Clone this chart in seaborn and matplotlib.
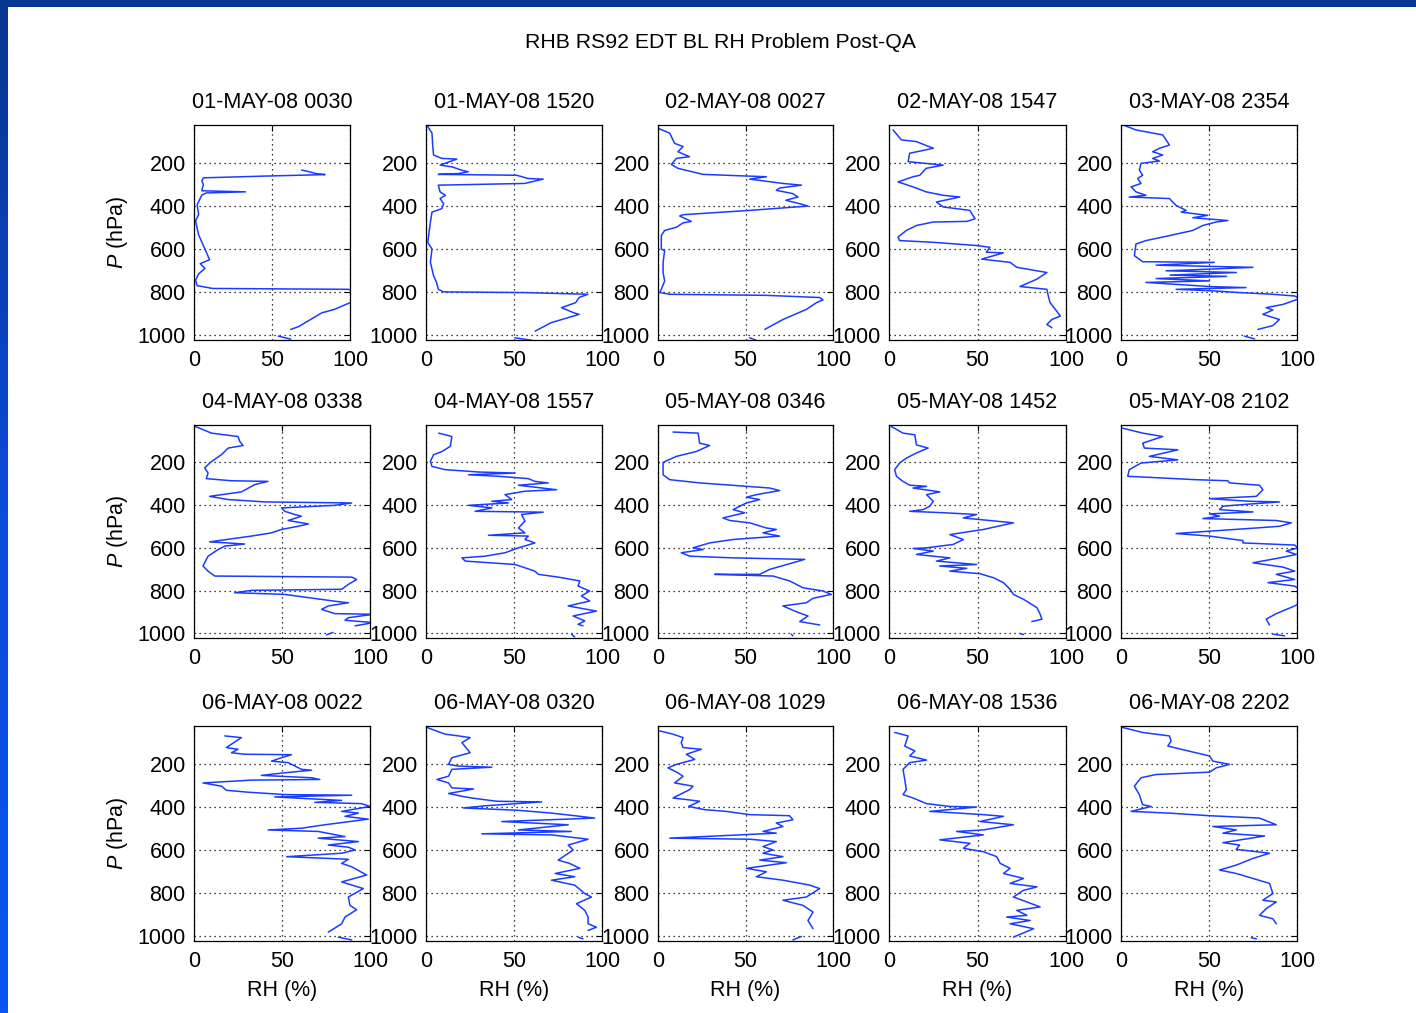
import numpy as np
import pandas as pd
import matplotlib
matplotlib.use("Agg")
import matplotlib.pyplot as plt
import seaborn as sns
from matplotlib.patches import Rectangle
from matplotlib.colors import LinearSegmentedColormap

titles = ["01-MAY-08 0030", "01-MAY-08 1520", "02-MAY-08 0027", "02-MAY-08 1547", "03-MAY-08 2354",
          "04-MAY-08 0338", "04-MAY-08 1557", "05-MAY-08 0346", "05-MAY-08 1452", "05-MAY-08 2102",
          "06-MAY-08 0022", "06-MAY-08 0320", "06-MAY-08 1029", "06-MAY-08 1536", "06-MAY-08 2202"]
x_ticks = [0, 50, 100]
y_ticks = [200, 400, 600, 800, 1000]

p_01 = [234, 242, 250, 255, 262, 270, 285, 300, 330, 335, 340, 350, 395, 440, 470, 535, 600, 650, 668, 690, 715, 745, 770, 783, 787, 810, 849, 880, 896, 930, 960, 973, None, 1004, 1018]
rh_01 = [69, 74, 78, 84, 45, 6, 5, 6, 5, 33, 8, 5, 2, 3, 1, 3, 7, 10, 4, 7, 3, 1, 2, 12, 99, 110, 100, 90, 82, 74, 67, 62, None, 54, 62]

p_02 = [32, 63, 118, 164, 180, 183, 211, 219, 234, 242, 250, 254, 258, 273, 276, 296, 304, 335, 351, 366, 390, 413, 429, 475, 538, 569, 600, 662, 693, 724, 755, 787, 799, 802, 810, 825, 849, 872, 896, 903, 942, 981, None, 1012, 1023]
rh_02 = [1, 3.4, 3.8, 4.3, 9, 17.5, 8, 14.7, 20, 24, 18.5, 7, 51.5, 58, 66.6, 56, 7, 8, 11, 8, 10, 9, 3.4, 2.5, 1.5, 1, 3.4, 2.5, 3.4, 4.3, 6, 7, 10, 55, 92, 87, 85, 77, 84, 87, 71, 62, None, 50.5, 60]

p_03 = [40, 63, 110, 125, 149, 172, 180, 208, 226, 254, 261, 265, 276, 296, 304, 317, 328, 343, 359, 374, 390, 401, 421, 441, 447, 472, 479, 499, 514, 538, 600, 608, 662, 709, 748, 787, 802, 810, 815, 825, 836, 849, 880, 927, 973, None, 1012, 1023]
rh_03 = [0, 6.7, 9.5, 14.3, 11.4, 18, 10.5, 7.6, 11.4, 25.7, 48.6, 62, 52.4, 71.4, 82, 69.5, 67.6, 77, 80, 73, 81, 85.7, 52.4, 14.3, 12.4, 19, 14.3, 10.5, 3.8, 1.9, 1.9, 3.8, 2.9, 2.9, 3.8, 1.9, 1, 6.7, 62, 92.4, 94.3, 90.5, 84.8, 71.4, 61, None, 52.4, 56]

p_04 = [48, 94, 102, 133, 156, 195, 211, 226, 258, 265, 289, 312, 335, 351, 359, 382, 405, 421, 460, 472, 475, 491, 514, 545, 561, 569, 584, 592, 615, 618, 647, 662, 685, 701, 709, 740, 774, 787, 818, 849, 880, 911, 927, 950, 965]
rh_04 = [2.3, 7, 15.5, 25, 11.7, 10.8, 30.6, 21, 17.4, 13.6, 5.1, 13.6, 21, 30.6, 40, 26.8, 30.6, 45.7, 48.6, 43.9, 25, 15.5, 9.8, 5.1, 6, 25, 49.5, 57, 55, 64.6, 52.4, 68.4, 72.2, 83.5, 89.2, 83.5, 74, 89.2, 90, 91, 94, 96.8, 92, 89.2, 92]

p_05 = [24, 48, 71, 94, 118, 133, 149, 164, 180, 192, 203, 234, 258, 273, 296, 312, 335, 351, 359, 366, 398, 421, 429, 444, 455, 468, 475, 491, 514, 538, 561, 577, 631, 659, 662, 675, 685, 696, 701, 709, 721, 727, 737, 748, 755, 774, 779, 787, 794, 802, 810, 818, 830, 857, 872, 883, 903, 927, 955, 973, None, 1004, 1017]
rh_05 = [1, 8.5, 23.7, 25.6, 27.5, 21.8, 18, 23.7, 18, 21.8, 11.4, 10.4, 12.3, 9.5, 11.4, 5.7, 8.5, 14.2, 4.7, 27.5, 31.3, 37, 34.2, 49.3, 40.8, 60.7, 54, 46.5, 40.8, 27.5, 14.2, 8.5, 7.6, 12.3, 53, 20, 75, 42.7, 25.6, 65.5, 27.9, 60, 20, 50.3, 14.2, 50.3, 71, 31.3, 52, 67.4, 86.3, 98.7, 101.5, 92, 82.5, 86.3, 80.6, 90, 86.3, 77.8, None, 70.2, 75.9]

p_06 = [32, 63, 79, 102, 121, 133, 164, 180, 203, 226, 250, 276, 286, 289, 304, 338, 359, 374, 385, 390, 401, 413, 429, 444, 452, 472, 488, 499, 514, 530, 545, 572, 582, 592, 608, 639, 685, 709, 732, 737, 748, 771, 794, 799, 810, 818, 852, 857, 872, 888, 908, 911, 927, 939, 950, 965, None, 996, 1007]
rh_06 = [0.8, 9.9, 25, 26, 27.9, 19.4, 15.6, 12.7, 8.9, 6.1, 8, 7, 21.3, 42, 34.5, 27, 8.9, 19.4, 40.2, 89.6, 80, 49.7, 51.6, 57.3, 61, 53.5, 65, 59.2, 49.7, 44, 32.6, 8.9, 28.8, 17.5, 13.7, 8, 5.1, 8, 11.8, 89.6, 92.4, 87.7, 83.9, 32.6, 23.1, 51.6, 82, 87.7, 76.3, 72.5, 80, 102, 87.7, 85.8, 102, 91.5, None, 79, 75.3]

p_07 = [63, 79, 125, 149, 164, 195, 219, 234, 245, 250, 258, 265, 276, 289, 296, 307, 328, 335, 351, 374, 382, 390, 401, 413, 429, 433, 444, 475, 507, 530, 541, 545, 561, 577, 600, 623, 639, 647, 662, 678, 709, 724, 737, 755, 779, 802, 825, 849, 872, 896, 919, 942, 958, 965, None, 1004, 1017]
rh_07 = [7.2, 14.7, 13.8, 9.1, 4.3, 2.5, 3.4, 10.9, 29.8, 50.6, 24.2, 41.1, 58.1, 61.9, 69.4, 52.5, 74.2, 56.2, 44.9, 48.7, 37.4, 46.8, 24.2, 37.4, 27.9, 66.6, 54.3, 56.2, 52.5, 56.2, 35.5, 58.1, 56.2, 61.9, 52.5, 44.9, 33.6, 20.4, 22.3, 50.6, 61.9, 63.8, 75.1, 87.4, 86.4, 93, 88.3, 93, 80.8, 96.8, 83.6, 90.2, 86.4, 89.2, None, 82.6, 84.5]

p_08 = [58, 63, 110, 121, 149, 172, 200, 258, 281, 296, 312, 320, 332, 351, 363, 374, 390, 421, 436, 460, 472, 483, 507, 514, 530, 545, 561, 577, 600, 608, 623, 639, 647, 654, 701, 724, 724, 732, 755, 787, 802, 818, 836, 857, 872, 899, 919, 945, 961, None, 1004, 1012]
rh_08 = [8.6, 22.9, 23.8, 29.5, 21.9, 10.5, 2.9, 2.9, 6.7, 23.8, 50.5, 63.8, 69.5, 56.2, 50.5, 58.1, 50.5, 42.9, 49.5, 37.1, 41, 52.4, 61.9, 67.6, 60, 69.5, 42.9, 29.5, 20, 25.7, 13.3, 18.1, 42.9, 83.8, 63.8, 58.1, 32.4, 65.7, 75.2, 82.9, 94.3, 99, 88.6, 84.8, 71.4, 79, 85.7, 81, 92.4, None, 76.2, 77]

p_09 = [32, 63, 71, 118, 133, 156, 180, 203, 234, 265, 289, 307, 312, 320, 338, 351, 382, 405, 421, 429, 436, 444, 460, 483, 514, 538, 561, 584, 600, 603, 615, 631, 647, 662, 678, 685, 696, 709, 721, 740, 763, 794, 818, 841, 880, 911, 934, 945, None, 1001, 1006]
rh_09 = [1.3, 7.9, 14.6, 15.5, 22.1, 15.5, 9.8, 6, 3.2, 4.2, 7.9, 11.7, 21.2, 13.6, 28.7, 21.2, 25, 23.1, 19.3, 11.7, 31.6, 49.5, 42, 70.3, 53.3, 34.4, 42, 36.3, 21.2, 13.6, 25, 15.5, 34.4, 26.8, 49.5, 28.7, 43.9, 34.4, 51.4, 59, 64.7, 68.4, 70.3, 76, 83.6, 85.4, 86.4, 80.7, None, 74, 76]

p_10 = [40, 63, 79, 110, 133, 141, 172, 188, 203, 234, 265, 281, 286, 296, 307, 328, 359, 370, 382, 385, 395, 405, 421, 432, 441, 452, 463, 472, 483, 499, 507, 522, 533, 545, 566, 577, 587, 600, 615, 631, 647, 670, 690, 709, 724, 748, 763, 779, 802, 841, 872, 908, 934, 961, None, 1004, 1012]
rh_10 = [1, 12.3, 23.7, 12.3, 13.3, 32.3, 16.1, 32.3, 11.4, 4.7, 3.8, 42.7, 60.7, 61.7, 78.7, 80.6, 76.9, 50.3, 73.1, 90.1, 73.1, 57.9, 56, 75, 50.3, 56, 46.5, 88.2, 96.8, 90.1, 76.9, 50.3, 31.3, 50.3, 69.3, 69.3, 98.7, 100.6, 93.9, 99.6, 90.1, 75, 92, 98.7, 88.2, 98.7, 83.5, 98.7, 102.5, 105, 98.7, 88.2, 82.5, 84.4, None, 86.3, 93]

p_11 = [71, 79, 125, 133, 149, 156, 158, 172, 188, 195, 226, 230, 242, 254, 265, 273, 276, 289, 304, 323, 332, 343, 346, 354, 366, 370, 379, 385, 398, 421, 429, 444, 457, 483, 499, 507, 514, 538, 545, 561, 577, 587, 600, 615, 631, 643, 662, 678, 716, 748, 779, 818, 857, 877, 911, 942, 981, None, 1004, 1017]
rh_11 = [17.5, 26.9, 18.4, 25, 21.3, 28.8, 55.4, 49.7, 44, 53.5, 61.1, 66.8, 51.6, 38.3, 66.8, 71.5, 32.6, 5.1, 15.6, 18.4, 30.7, 51.6, 89.6, 45.9, 74.4, 83.9, 68.7, 95.3, 100, 83.9, 93.4, 85.8, 99, 74.4, 61.1, 42.1, 70.6, 85.8, 70.6, 93.4, 76.3, 87.7, 91.5, 83.9, 52.6, 87.7, 83.9, 89.6, 98.1, 83.9, 96.2, 87.7, 88.6, 92.4, 85.8, 83.9, 76.3, None, 82, 89.6]

p_12 = [32, 63, 71, 79, 102, 149, 172, 203, 211, 216, 226, 258, 273, 289, 312, 317, 338, 351, 359, 374, 377, 395, 405, 416, 429, 441, 452, 460, 468, 483, 491, 507, 514, 525, 530, 550, 577, 600, 647, 662, 685, 709, 724, 740, 763, 802, 818, 849, 880, 911, 942, 958, 973, None, 1004, 1012]
rh_12 = [0.6, 10.9, 18.5, 25.1, 20.4, 25.1, 14.7, 12.8, 18.5, 37.4, 14.7, 12.8, 6.2, 12.8, 14.7, 27, 12.8, 20.4, 26, 40.2, 65.7, 33.6, 21.3, 52.5, 71.3, 84.5, 95.8, 69.4, 43, 80.8, 71.3, 52.5, 82.6, 31.7, 71.3, 92.1, 80.8, 83.6, 75.1, 81.5, 87.4, 73.4, 84.5, 71.3, 84.5, 90.2, 94, 85.5, 90.2, 92.1, 92.1, 96.8, 92.1, None, 86.4, 89.2]

p_13 = [48, 63, 79, 102, 125, 133, 156, 180, 203, 219, 242, 258, 289, 304, 320, 343, 359, 366, 374, 398, 413, 421, 436, 441, 460, 475, 491, 514, 522, 545, 550, 561, 584, 600, 615, 631, 647, 659, 685, 701, 724, 740, 763, 779, 818, 833, 857, 888, 927, 965, None, 1001, 1017]
rh_13 = [1, 8.6, 14.3, 13.3, 14.3, 24.8, 16.2, 21, 10.5, 5.7, 11.4, 14.3, 9.5, 20, 18.1, 12.4, 8.6, 16.2, 23.8, 17.5, 26.7, 39, 52.4, 75.2, 77.1, 67.6, 71.4, 60, 67.6, 6.7, 52.4, 67.6, 60, 65.7, 60, 71.4, 58.1, 73.3, 50.5, 61.9, 56.2, 71.4, 86.7, 92.4, 84.8, 71.4, 82.9, 88.6, 85.7, 88.6, None, 81.9, 77.1]

p_14 = [55, 71, 118, 141, 164, 183, 195, 226, 273, 320, 343, 359, 385, 398, 401, 421, 436, 444, 468, 483, 507, 514, 530, 553, 569, 592, 608, 631, 662, 685, 709, 732, 755, 771, 787, 818, 841, 864, 880, 903, 911, 927, 942, 965, 1004]
rh_14 = [3.2, 10.8, 8.9, 14.6, 11.7, 21.2, 11.7, 7.9, 8.9, 9.8, 7.9, 13.6, 21.2, 34.4, 49.5, 23.1, 53.3, 64.7, 51.4, 70.3, 53.3, 38.2, 53.3, 28.7, 45.7, 42, 53.3, 60.9, 62.8, 68.4, 64.7, 76, 68.4, 83.6, 76, 70.3, 77.9, 85.4, 72.2, 77.9, 66.5, 79.8, 68.4, 81.7, 70.3]

p_15 = [32, 55, 71, 94, 118, 133, 164, 188, 203, 219, 239, 250, 265, 304, 343, 390, 398, 421, 429, 441, 452, 483, 491, 507, 522, 535, 566, 577, 597, 615, 639, 670, 693, 709, 732, 755, 802, 833, 841, 872, 903, 919, 942, None, 1007, 1012]
rh_15 = [1, 12.3, 27.5, 28.5, 26.6, 34.2, 50.3, 52.2, 61.7, 54.1, 50.3, 19.9, 11.4, 7.6, 10.4, 12.3, 17.1, 5.7, 27.5, 50.3, 78.7, 88.2, 52.2, 65.5, 57.9, 81.6, 57.9, 67.4, 65.5, 84.4, 75, 65.5, 56, 65.5, 75, 84.4, 86.3, 80.6, 88.2, 82.5, 78.7, 86.3, 88.2, None, 74, 76.9]

profiles = [(p_01, rh_01), (p_02, rh_02), (p_03, rh_03), (p_04, rh_04), (p_05, rh_05),
            (p_06, rh_06), (p_07, rh_07), (p_08, rh_08), (p_09, rh_09), (p_10, rh_10),
            (p_11, rh_11), (p_12, rh_12), (p_13, rh_13), (p_14, rh_14), (p_15, rh_15)]

sns.set_theme(style="white")
plt.rcParams["font.family"] = ["Liberation Sans", "DejaVu Sans"]
plt.rcParams["mathtext.fontset"] = "custom"
plt.rcParams["mathtext.it"] = "Liberation Sans:italic"
plt.rcParams["mathtext.rm"] = "Liberation Sans"

W, H = 1416, 1013
fig = plt.figure(figsize=(W / 100, H / 100), dpi=100)
fig.patch.set_facecolor("white")

# frame: top bar and left gradient bar
fig.add_artist(Rectangle((0, 1 - 7 / H), 1, 7 / H, transform=fig.transFigure,
                         facecolor="#07358f", edgecolor="none", zorder=5))
gax = fig.add_axes([0, 0, 8 / W, 1 - 7 / H])
grad = np.linspace(0, 1, 256).reshape(-1, 1)
cmap = LinearSegmentedColormap.from_list("edge", ["#07358f", "#0a4bd8", "#0b55f0"])
gax.imshow(grad, aspect="auto", cmap=cmap, extent=[0, 1, 1, 0])
gax.set_axis_off()

col_x = [194, 426, 658, 889, 1121]
col_w = [176, 176, 175, 177, 176]
row_top = [125, 425, 726]
row_bot = [340, 638, 941]

fs = 15.5
fig.text(720 / W, 1 - 43 / H, "RHB RS92 EDT BL RH Problem Post-QA", ha="center", va="center",
         fontsize=15.3, color="black")

line_color = "#1a3cff"
for i, (title, (p, rh)) in enumerate(zip(titles, profiles)):
    r, c = divmod(i, 5)
    x0 = col_x[c]
    w = col_w[c]
    if r == 0 and c == 0:
        w = 156
    ax = fig.add_axes([x0 / W, 1 - row_bot[r] / H, w / W, (row_bot[r] - row_top[r]) / H])
    seg = np.cumsum([v is None for v in p])
    df = pd.DataFrame({"p": p, "rh": rh, "seg": seg}).dropna()
    sns.lineplot(data=df, x="rh", y="p", units="seg", estimator=None, sort=False,
                 color=line_color, linewidth=1.1, ax=ax, legend=False)
    ax.set_xlim(0, 100)
    ax.set_ylim(1022, 25)
    ax.set_xticks(x_ticks)
    ax.set_yticks(y_ticks)
    ax.set_xticklabels([str(v) for v in x_ticks])
    ax.set_yticklabels([str(v) for v in y_ticks])
    ax.grid(True, color="black", linestyle=(0, (1, 3)), linewidth=0.9)
    ax.tick_params(direction="in", length=4, width=0.8, top=True, right=True,
                   labelsize=fs, colors="black", pad=6)
    ax.tick_params(axis="x", pad=7)
    for s in ax.spines.values():
        s.set_color("black")
        s.set_linewidth(0.9)
    ax.set_title(title, fontsize=15.6, pad=12, color="black")
    if c == 0:
        ax.set_ylabel("$P$ (hPa)", fontsize=fs, color="black")
        ax.yaxis.set_label_coords((130 - 194) / w, 0.5)
    else:
        ax.set_ylabel("")
    if r == 2:
        ax.set_xlabel("RH (%)", fontsize=fs, color="black")
        ax.xaxis.set_label_coords(0.5, -(980 - 941) / (941 - 726))
    else:
        ax.set_xlabel("")

fig.savefig("out.png", dpi=100, facecolor="white")
